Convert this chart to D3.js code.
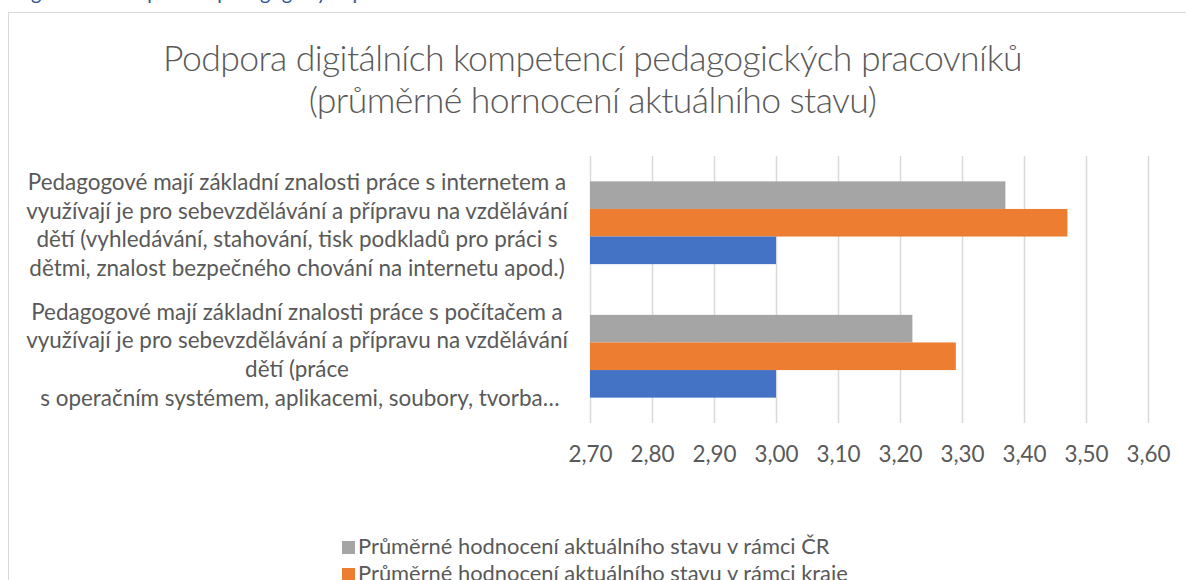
<!DOCTYPE html>
<html>
<head>
<meta charset="utf-8">
<script src="https://cdn.jsdelivr.net/npm/d3@7"></script>
<style>
  html, body { margin: 0; padding: 0; background: #ffffff; overflow: hidden; }
  svg { display: block; }
  text { font-family: Lato, "Open Sans", sans-serif; fill: #595959; }
</style>
</head>
<body>
<svg id="chart" width="1186" height="580"></svg>
<script>
// ---- data ----
const categories = ["internet", "pocitac"];
const categoryLines = [
  ["Pedagogové mají základní znalosti práce s internetem a",
   "využívají je pro sebevzdělávání a přípravu na vzdělávání",
   "dětí (vyhledávání, stahování, tisk podkladů pro práci s",
   "dětmi, znalost bezpečného chování na internetu apod.)"],
  ["Pedagogové mají základní znalosti práce s počítačem a",
   "využívají je pro sebevzdělávání a přípravu na vzdělávání",
   "dětí (práce",
   " s operačním systémem, aplikacemi, soubory, tvorba…"]
];
const seriesKeys = ["cr", "kraj", "skola"];
const valuesCR = [3.37, 3.22];
const valuesKraj = [3.47, 3.29];
const valuesSkola = [3.00, 3.00];
const tickValues = [2.7, 2.8, 2.9, 3.0, 3.1, 3.2, 3.3, 3.4, 3.5, 3.6];
const tickLabels = ["2,70", "2,80", "2,90", "3,00", "3,10", "3,20", "3,30", "3,40", "3,50", "3,60"];
const legendKeys = ["cr", "kraj"];
const legendLabels = ["Průměrné hodnocení aktuálního stavu v rámci ČR",
                      "Průměrné hodnocení aktuálního stavu v rámci kraje"];
const titleLines = ["Podpora digitálních kompetencí pedagogických pracovníků",
                    "(průměrné hornocení aktuálního stavu)"];
const captionText = "Podpora digitálních kompetencí pedagogických pracovníků";

const seriesValues = { cr: valuesCR, kraj: valuesKraj, skola: valuesSkola };
const colors = { cr: "#A5A5A5", kraj: "#ED7D31", skola: "#4472C4" };

// ---- layout ----
const svg = d3.select("#chart");
const FONT = 'Lato, "Open Sans", sans-serif';

// font size that makes a sample string a given width
function fitSize(sample, width, weight, spacing) {
  const t = svg.append("text").attr("font-size", 100)
    .attr("font-weight", weight || 400).text(sample);
  const w = t.node().getComputedTextLength();
  t.remove();
  const n = sample.length;
  return 100 * (width - (spacing || 0) * n) / w;
}

const plotLeft = 590, plotRight = 1148, plotTop = 156, plotBottom = 423;

const x = d3.scaleLinear().domain([2.7, 3.6]).range([plotLeft, plotRight]);
const y = d3.scaleBand().domain(categories).range([plotTop, plotBottom])
  .paddingInner(0.38).paddingOuter(0.19);
const ySub = d3.scaleBand().domain(seriesKeys).range([0, y.bandwidth()]);

// chart frame
svg.append("rect")
  .attr("x", 8.5).attr("y", 12.5).attr("width", 1300).attr("height", 700)
  .attr("fill", "#ffffff").attr("stroke", "#d9d9d9").attr("stroke-width", 1);

// document caption above the frame
const capSize = 20;
const capPre = svg.append("text").attr("font-size", capSize).text("Podpora di");
const capPreW = capPre.node().getComputedTextLength();
capPre.remove();
svg.append("text")
  .attr("x", 31 - capPreW).attr("y", 0)
  .attr("font-size", capSize)
  .style("fill", "#2F5496")
  .text(captionText);

// title
const titleSpacing = -0.6;
const titleSize = fitSize(titleLines[0], 859, 300, titleSpacing);
svg.append("g").selectAll("text").data(titleLines).join("text")
  .attr("x", 592.5)
  .attr("y", (d, i) => 71 + i * 42)
  .attr("text-anchor", "middle")
  .attr("font-size", titleSize)
  .attr("font-weight", 300)
  .attr("letter-spacing", titleSpacing)
  .text(d => d);

// gridlines + tick labels
const labelSize = fitSize(categoryLines[0][1], 542);
const xAxis = d3.axisBottom(x)
  .tickValues(tickValues)
  .tickFormat((d, i) => tickLabels[i])
  .tickSize(-(plotBottom - plotTop));
const axisG = svg.append("g")
  .attr("transform", `translate(0,${plotBottom})`)
  .call(xAxis);
axisG.select(".domain").remove();
axisG.selectAll(".tick line").attr("stroke", "#d9d9d9").attr("stroke-width", 1.5);
axisG.selectAll(".tick text")
  .attr("y", 39).attr("dy", 0)
  .attr("font-size", labelSize)
  .attr("font-family", FONT)
  .style("fill", "#595959");

// bars
const groups = svg.append("g").selectAll("g").data(categories).join("g")
  .attr("transform", d => `translate(0,${y(d)})`);
groups.selectAll("rect")
  .data((c, ci) => seriesKeys.map(k => ({ key: k, value: seriesValues[k][ci] })))
  .join("rect")
  .attr("x", x(2.7))
  .attr("y", d => ySub(d.key))
  .attr("width", d => x(d.value) - x(2.7))
  .attr("height", ySub.bandwidth())
  .attr("fill", d => colors[d.key]);

// category labels: wrapped lines, centred near each bar group
const lineGap = 28.6;
const labelShift = [2.5, -1.5];
svg.append("g").selectAll("text").data(categories).join("text")
  .attr("text-anchor", "middle")
  .attr("font-size", labelSize)
  .attr("xml:space", "preserve")
  .style("white-space", "pre")
  .each(function (c, ci) {
    const lines = categoryLines[ci];
    const cy = y(c) + y.bandwidth() / 2 + labelShift[ci];
    const first = cy - (lines.length - 1) / 2 * lineGap;
    d3.select(this).selectAll("tspan").data(lines).join("tspan")
      .attr("x", 297)
      .attr("y", (d, i) => first + i * lineGap + labelSize * 0.35)
      .text(d => d);
  });

// legend
const legendSize = fitSize(legendLabels[0], 472);
const legend = svg.append("g").selectAll("g").data(legendKeys).join("g")
  .attr("transform", (d, i) => `translate(342,${541 + i * 27})`);
legend.append("rect")
  .attr("width", 13).attr("height", 13)
  .attr("fill", d => colors[d]);
legend.append("text")
  .attr("x", 16).attr("y", 13)
  .attr("font-size", legendSize)
  .text((d, i) => legendLabels[i]);
</script>
</body>
</html>
